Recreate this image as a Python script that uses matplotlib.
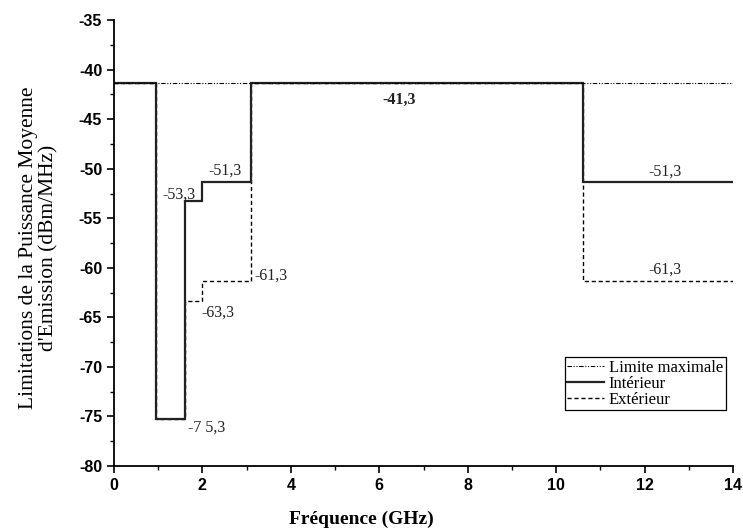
import matplotlib
matplotlib.use("Agg")
import matplotlib.pyplot as plt
from matplotlib.ticker import MultipleLocator

plt.rcParams["axes.unicode_minus"] = False

# FCC UWB emission mask (GHz / dBm/MHz)
freq_edges = [0, 0.96, 1.61, 1.99, 3.1, 10.6, 14]
interieur = [-41.3, -75.3, -53.3, -51.3, -41.3, -51.3]
exterieur = [-41.3, -75.3, -63.3, -61.3, -41.3, -61.3]
limite_max = -41.3

# value annotations: (x, y, text, ha, bold)
annotations = [
    (1.48, -52.6, "-53,3", "center", False),
    (2.51, -50.2, "-51,3", "center", False),
    (3.17, -60.8, "-61,3", "left", False),
    (2.36, -64.5, "-63,3", "center", False),
    (1.67, -76.1, "-7 5,3", "left", False),
    (6.45, -43.0, "-41,3", "center", True),
    (12.47, -50.3, "-51,3", "center", False),
    (12.47, -60.2, "-61,3", "center", False),
]

serif = ["Liberation Serif", "DejaVu Serif"]
sans = ["Liberation Sans Narrow", "Liberation Sans", "DejaVu Sans"]

fig = plt.figure(figsize=(7.43, 5.29), dpi=100)
ax = fig.add_axes([0.1534, 0.119, 0.8332, 0.843])

ax.plot([freq_edges[0], freq_edges[-1]], [limite_max, limite_max],
        color="black", lw=0.8, linestyle=(0, (4, 1.5, 1, 1.5, 1, 1.5)),
        label="Limite maximale")
ax.stairs(exterieur, freq_edges, baseline=None, color="black", lw=1.0,
          linestyle=(0, (3, 2)), label="Extérieur")
ax.stairs(interieur, freq_edges, baseline=None, color="#222222", lw=1.6,
          label="Intérieur")

for x, y, t, ha, b in annotations:
    ax.text(x, y, t, ha=ha, va="center", fontsize=11.5, family=serif,
            fontweight="bold" if b else "normal", color="#222222")

ax.set_xlim(0, 14)
ax.set_ylim(-80, -35)
ax.xaxis.set_major_locator(MultipleLocator(2))
ax.xaxis.set_minor_locator(MultipleLocator(1))
ax.yaxis.set_major_locator(MultipleLocator(5))
ax.yaxis.set_minor_locator(MultipleLocator(2.5))
ax.tick_params(which="major", direction="out", length=5, width=1.2)
ax.tick_params(which="minor", direction="out", length=3, width=1.0)
for lab in ax.get_xticklabels() + ax.get_yticklabels():
    lab.set_family(sans)
    lab.set_fontweight("bold")
    lab.set_fontsize(11.5)

for s in ("top", "right"):
    ax.spines[s].set_visible(False)
for s in ("left", "bottom"):
    ax.spines[s].set_linewidth(1.3)

ax.set_xlabel("Fréquence (GHz)", family=serif, fontweight="bold",
              fontsize=14)
ax.xaxis.set_label_coords(0.40, -0.1)
ax.set_ylabel("Limitations de la Puissance Moyenne\nd'Emission (dBm/MHz)",
              family=serif, fontsize=15.5, linespacing=1.05)
ax.yaxis.set_label_coords(-0.09, 0.49)

handles, labels = ax.get_legend_handles_labels()
order = [labels.index("Limite maximale"), labels.index("Intérieur"),
         labels.index("Extérieur")]
leg = ax.legend([handles[i] for i in order], [labels[i] for i in order],
                loc="lower left", bbox_to_anchor=(0.728, 0.125),
                prop={"family": serif, "size": 12}, frameon=True,
                fancybox=False, edgecolor="black", framealpha=1,
                handlelength=2.2, handletextpad=0.3, borderpad=0.15,
                labelspacing=0.0, borderaxespad=0)
leg.get_frame().set_linewidth(0.9)

fig.savefig("out.png", dpi=100)
